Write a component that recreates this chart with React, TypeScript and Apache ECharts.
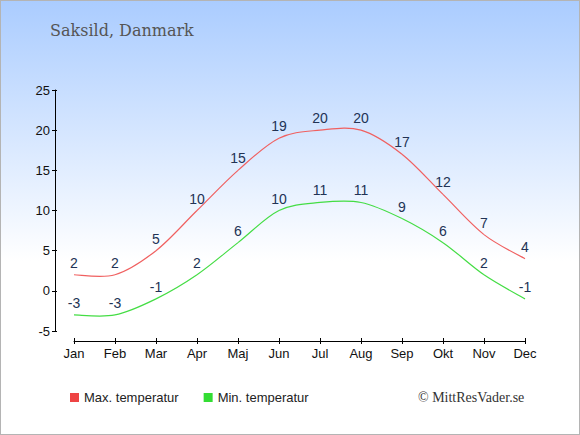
import React, { useEffect, useRef } from "react";
import * as echarts from "echarts";

const months = ["Jan", "Feb", "Mar", "Apr", "Maj", "Jun", "Jul", "Aug", "Sep", "Okt", "Nov", "Dec"];
const maxTemp = [2, 2, 5, 10, 15, 19, 20, 20, 17, 12, 7, 4];
const minTemp = [-3, -3, -1, 2, 6, 10, 11, 11, 9, 6, 2, -1];
const yTicks = { min: -5, max: 25, interval: 5 };
const title = "Saksild, Danmark";
const seriesNames = ["Max. temperatur", "Min. temperatur"];
const credit = "© MittResVader.se";

function curveRenderer(values: number[], color: string) {
  return (params: any, api: any) => {
    const i = params.dataIndex;
    const n = values.length;
    if (i >= n - 1) return null;
    const idx = [Math.max(0, i - 1), i, i + 1, Math.min(n - 1, i + 2)];
    const p = idx.map((k) => api.coord([k, values[k]]));
    const cp1x = p[1][0] + (p[2][0] - p[0][0]) / 6;
    const cp1y = p[1][1] + (p[2][1] - p[0][1]) / 6;
    const cp2x = p[2][0] - (p[3][0] - p[1][0]) / 6;
    const cp2y = p[2][1] - (p[3][1] - p[1][1]) / 6;
    return {
      type: "bezierCurve",
      shape: {
        x1: p[1][0], y1: p[1][1],
        x2: p[2][0], y2: p[2][1],
        cpx1: cp1x, cpy1: cp1y,
        cpx2: cp2x, cpy2: cp2y,
      },
      style: { stroke: color, lineWidth: 1.2, fill: "none" },
      silent: true,
    };
  };
}

export default function App() {
  const ref = useRef<HTMLDivElement>(null);
  useEffect(() => {
    document.body.style.margin = "0";
    const chart = echarts.init(ref.current!, null, { renderer: "svg" });
    const labelStyle = {
      show: true,
      position: "top" as const,
      distance: 5,
      color: "#223355",
      fontSize: 14,
      fontFamily: "Liberation Sans",
    };
    chart.setOption({
      animation: false,
      graphic: [
        {
          type: "rect",
          z: -10,
          shape: { x: 0, y: 0, width: 580, height: 435 },
          style: {
            fill: new echarts.graphic.LinearGradient(0, 0, 0, 1, [
              { offset: 0, color: "#aaccff" },
              { offset: 0.6, color: "#ffffff" },
              { offset: 1, color: "#ffffff" },
            ]),
            stroke: "#b4b4b4",
            lineWidth: 2,
          },
          silent: true,
        },
        {
          type: "text",
          left: 50,
          top: 22,
          style: { text: title, fill: "#555555", font: "16px 'DejaVu Serif'" },
        },
        {
          type: "text",
          left: 418,
          top: 390,
          style: { text: credit, fill: "#333333", font: "14px 'Liberation Serif'" },
        },
      ],
      legend: {
        left: 70,
        top: 391,
        padding: 0,
        icon: "rect",
        itemWidth: 9,
        itemHeight: 9,
        itemGap: 25,
        textStyle: { fontFamily: "Liberation Sans", fontSize: 13, color: "#222222" },
        data: seriesNames,
      },
      grid: { left: 74, right: 55, top: 90, bottom: 104 },
      xAxis: [
        {
          type: "category",
          data: months,
          boundaryGap: false,
          offset: 10,
          axisLine: { onZero: false, lineStyle: { color: "#000", width: 1 } },
          axisTick: { length: 3, lineStyle: { color: "#000" } },
          axisLabel: { color: "#111", fontSize: 13, fontFamily: "Liberation Sans", margin: 6 },
        },
        {
          type: "category",
          data: months,
          boundaryGap: false,
          position: "bottom",
          offset: 10,
          axisLine: { show: false, onZero: false },
          axisTick: { inside: true, length: 3, lineStyle: { color: "#000" } },
          axisLabel: { show: false },
        },
      ],
      yAxis: [
        {
          type: "value",
          min: yTicks.min,
          max: yTicks.max,
          interval: yTicks.interval,
          offset: 19,
          splitLine: { show: false },
          axisLine: { show: true, lineStyle: { color: "#000" } },
          axisTick: { show: true, length: 3, lineStyle: { color: "#000" } },
          axisLabel: { color: "#111", fontSize: 13, fontFamily: "Liberation Sans", margin: 5 },
        },
        {
          type: "value",
          min: yTicks.min,
          max: yTicks.max,
          interval: yTicks.interval,
          position: "left",
          offset: 19,
          splitLine: { show: false },
          axisLine: { show: false },
          axisTick: { show: true, inside: true, length: 2, lineStyle: { color: "#000" } },
          axisLabel: { show: false },
        },
      ],
      series: [
        {
          type: "custom",
          xAxisIndex: 0,
          yAxisIndex: 0,
          data: maxTemp.map((v, i) => [i, v]),
          renderItem: curveRenderer(maxTemp, "#f06060"),
          silent: true,
        },
        {
          type: "custom",
          xAxisIndex: 0,
          yAxisIndex: 0,
          data: minTemp.map((v, i) => [i, v]),
          renderItem: curveRenderer(minTemp, "#44dd44"),
          silent: true,
        },
        {
          name: seriesNames[0],
          type: "line",
          data: maxTemp,
          showSymbol: true,
          symbol: "circle",
          symbolSize: 0,
          color: "#ee4444",
          lineStyle: { width: 0, opacity: 0 },
          label: labelStyle,
        },
        {
          name: seriesNames[1],
          type: "line",
          data: minTemp,
          showSymbol: true,
          symbol: "circle",
          symbolSize: 0,
          color: "#33dd33",
          lineStyle: { width: 0, opacity: 0 },
          label: labelStyle,
        },
      ],
    });
    return () => chart.dispose();
  }, []);
  return <div ref={ref} style={{ width: 580, height: 435 }} />;
}
